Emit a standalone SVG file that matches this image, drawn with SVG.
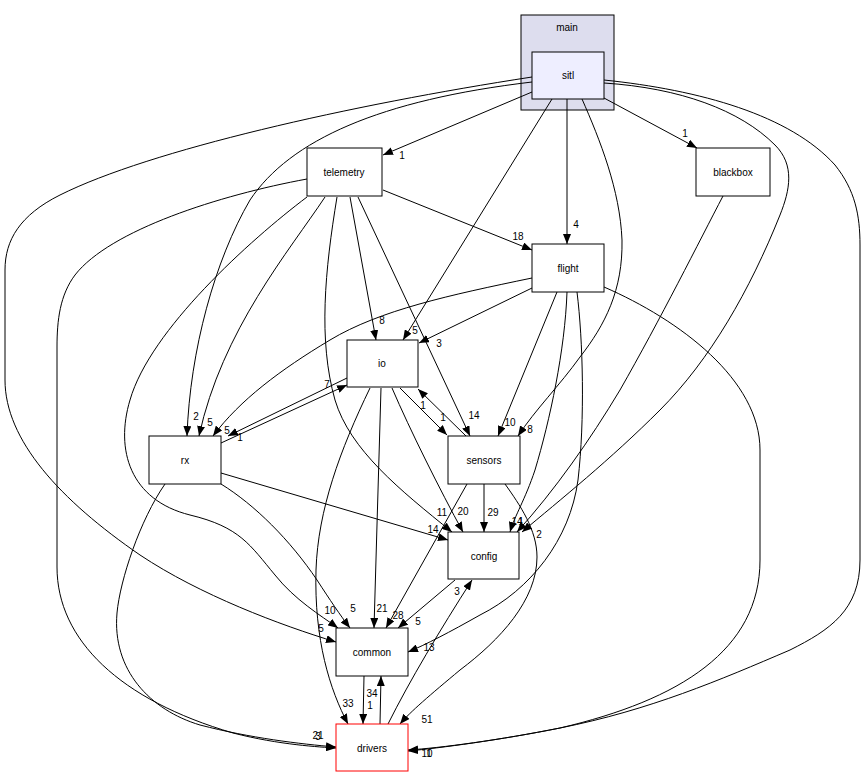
<svg xmlns="http://www.w3.org/2000/svg" width="867" height="777" viewBox="0 0 867 777">
<defs>
<marker id="ah" viewBox="0 0 10 8" refX="10" refY="4" markerWidth="10" markerHeight="8" markerUnits="userSpaceOnUse" orient="auto">
<path d="M0,0 L10,4 L0,8 z" fill="#000"/>
</marker>
</defs>
<style>
text{font-family:"Liberation Sans",Arial,sans-serif;fill:#000}
.n rect{fill:#fff;stroke:#000;stroke-width:1}
.n text{font-size:10px;text-anchor:middle}
.e path{fill:none;stroke:#000;stroke-width:1;marker-end:url(#ah)}
.e text{font-size:10px;text-anchor:middle}
</style>
<rect width="867" height="777" fill="#fff"/>
<g id="cluster_main">
<rect x="521" y="15" width="93" height="95" fill="#ddddee" stroke="#000"/>
<text x="567" y="31" font-size="10" text-anchor="middle">main</text>
</g>
<g id="edges" class="e">
<path d="M532,92 L383,155"/>
<path d="M604,98 L697,148"/>
<path d="M567,99 L567,244"/>
<path d="M552,99 L403,340"/>
<path d="M582,99 C600,140 620,190 622,240 C623,290 605,325 580,357 C560,385 535,410 518,436"/>
<path d="M604,83 C680,88 740,110 775,145 C795,165 790,190 780,215 C750,290 710,360 660,410 C610,460 560,500 522,532"/>
<path d="M532,82 C380,100 290,140 250,200 C215,260 190,350 187,436"/>
<path d="M532,77 C350,105 150,150 60,195 C20,215 5,240 5,270 L5,380 C5,440 60,500 140,555 C200,595 280,625 336,642"/>
<path d="M604,80 C700,90 790,115 835,165 C855,190 860,215 860,245 L860,560 C860,610 830,630 790,650 C720,680 650,710 560,728 C500,740 440,748 408,750"/>
<path d="M383,190 L532,250"/>
<path d="M350,197 L376,340"/>
<path d="M358,197 L470,436"/>
<path d="M337,197 C325,270 318,340 335,400 C350,450 400,490 452,532"/>
<path d="M325,197 C290,250 222,330 199,436"/>
<path d="M307,197 C250,240 150,330 130,400 C115,450 130,500 190,515 C240,527 250,545 275,575 C295,600 320,615 338,628"/>
<path d="M307,179 C220,195 110,230 75,275 C60,295 57,320 57,347 L57,567 C57,640 120,700 233,733 C280,745 320,747 336,748"/>
<path d="M532,288 L419,343"/>
<path d="M532,278 C450,295 380,310 330,340 C280,370 240,400 213,436"/>
<path d="M557,292 L498,436"/>
<path d="M567,292 C565,350 550,420 535,470 C525,500 515,515 510,532"/>
<path d="M577,292 C583,340 585,420 578,480 C570,540 530,590 480,615 C450,632 425,645 408,652"/>
<path d="M604,287 C680,320 760,380 760,450 L760,560 C760,650 680,700 560,728 C500,740 440,748 408,751"/>
<path d="M347,378 L228,436"/>
<path d="M400,388 L447,435"/>
<path d="M392,388 C410,430 440,490 463,532"/>
<path d="M381,388 L374,628"/>
<path d="M370,388 C340,450 318,510 316,570 C314,640 330,690 348,724"/>
<path d="M221,443 L347,385"/>
<path d="M221,473 L448,540"/>
<path d="M221,484 C255,505 290,540 317,580 C330,600 340,615 350,628"/>
<path d="M165,484 C140,520 120,580 117,613 C112,670 150,710 200,725 C250,738 300,744 336,747"/>
<path d="M466,436 L418,389"/>
<path d="M484,484 L484,532"/>
<path d="M467,484 L386,628"/>
<path d="M505,484 C520,505 537,530 537,557 C537,600 500,640 460,670 C430,695 410,712 400,724"/>
<path d="M723,196 C700,240 660,320 620,390 C590,440 555,490 517,532"/>
<path d="M455,580 L398,628"/>
<path d="M364,676 L363,724"/>
<path d="M380,724 L381,676"/>
<path d="M388,724 C410,680 440,630 472,580"/>
<text x="402" y="159">1</text>
<text x="685" y="137">1</text>
<text x="576" y="228">4</text>
<text x="415" y="334">5</text>
<text x="530" y="433">8</text>
<text x="539" y="538">2</text>
<text x="196" y="420">2</text>
<text x="321" y="632">5</text>
<text x="429" y="757">1</text>
<text x="518" y="240">18</text>
<text x="382" y="324">8</text>
<text x="474" y="419">14</text>
<text x="442" y="516">11</text>
<text x="210" y="426">5</text>
<text x="330" y="614">10</text>
<text x="318" y="739">21</text>
<text x="439" y="347">3</text>
<text x="227" y="434">5</text>
<text x="510" y="426">10</text>
<text x="517" y="525">14</text>
<text x="429" y="651">13</text>
<text x="427" y="757">10</text>
<text x="240" y="441">1</text>
<text x="443" y="421">1</text>
<text x="463" y="515">20</text>
<text x="382" y="612">21</text>
<text x="348" y="707">33</text>
<text x="327" y="388">7</text>
<text x="433" y="533">14</text>
<text x="353" y="612">5</text>
<text x="318" y="740">3</text>
<text x="423" y="409">1</text>
<text x="493" y="516">29</text>
<text x="398" y="619">28</text>
<text x="427" y="723">51</text>
<text x="521" y="525">1</text>
<text x="418" y="625">5</text>
<text x="370" y="709">1</text>
<text x="372" y="697">34</text>
<text x="457" y="595">3</text>
</g>
<g id="node_sitl" class="n"><rect x="532" y="52" width="72" height="47" style="fill:#eeeeff"/><text x="568" y="79">sitl</text></g>
<g id="node_telemetry" class="n"><rect x="307" y="148" width="75" height="48"/><text x="344" y="176">telemetry</text></g>
<g id="node_blackbox" class="n"><rect x="696" y="148" width="74" height="48"/><text x="733" y="176">blackbox</text></g>
<g id="node_flight" class="n"><rect x="532" y="244" width="72" height="48"/><text x="568" y="272">flight</text></g>
<g id="node_io" class="n"><rect x="347" y="340" width="71" height="47"/><text x="382" y="367">io</text></g>
<g id="node_rx" class="n"><rect x="149" y="436" width="72" height="48"/><text x="185" y="464">rx</text></g>
<g id="node_sensors" class="n"><rect x="448" y="436" width="72" height="48"/><text x="484" y="464">sensors</text></g>
<g id="node_config" class="n"><rect x="448" y="532" width="71" height="47"/><text x="484" y="560">config</text></g>
<g id="node_common" class="n"><rect x="336" y="628" width="72" height="48"/><text x="372" y="656">common</text></g>
<g id="node_drivers" class="n"><rect x="336" y="724" width="72" height="47" style="stroke:#ff0000"/><text x="372" y="752">drivers</text></g>
</svg>
